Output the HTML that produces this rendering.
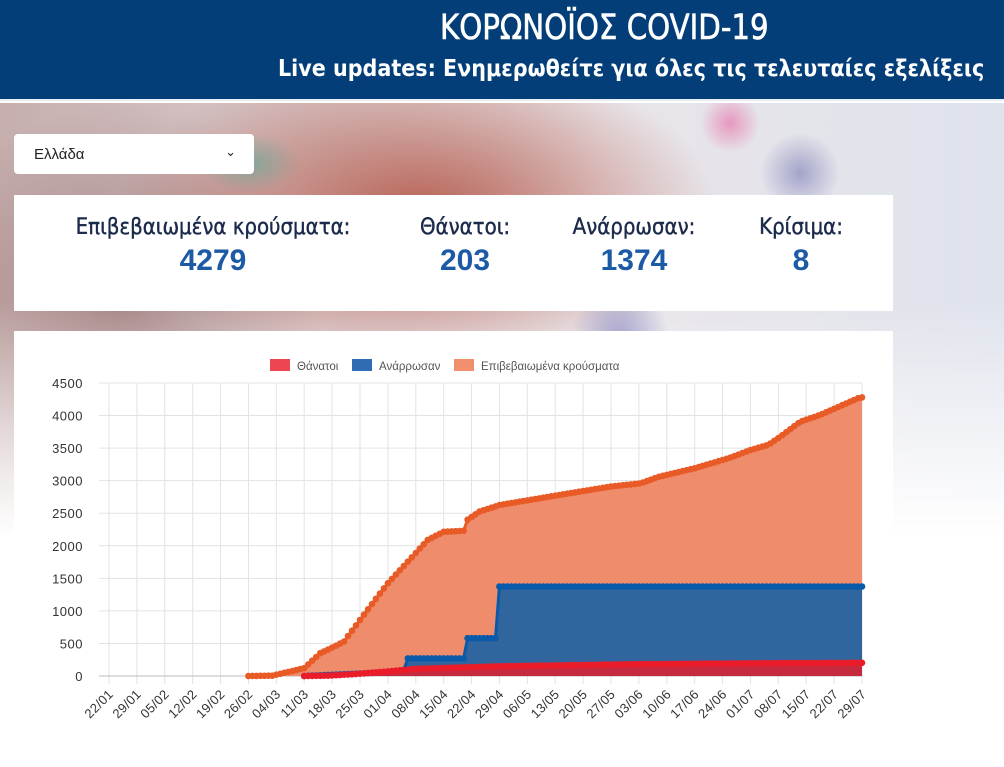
<!DOCTYPE html>
<html><head><meta charset="utf-8">
<style>
*{margin:0;padding:0;box-sizing:border-box}
body{width:1004px;height:767px;overflow:hidden;position:relative;font-family:"Liberation Sans","DejaVu Sans",sans-serif;background:#fff}
#hdr{position:absolute;left:0;top:0;width:1004px;height:101px;background:#033e78;border-bottom:2px solid #e8eef5}
#t1{position:absolute;left:440px;top:8px;color:#fff;font-size:35px;font-family:"DejaVu Sans Condensed","Liberation Sans",sans-serif;transform:scaleX(0.93);transform-origin:left;-webkit-text-stroke:0.6px #fff}
#t2{position:absolute;left:278px;top:56px;color:#fff;font-size:23px;font-weight:bold;font-family:"DejaVu Sans Condensed","Liberation Sans",sans-serif;white-space:nowrap}
#bg{position:absolute;left:0;top:103px;width:1004px;height:460px;
background:
radial-gradient(ellipse 60px 40px at 480px 130px,rgba(90,170,150,.7),transparent),
radial-gradient(ellipse 50px 60px at 620px 240px,rgba(110,110,180,.7),transparent),
radial-gradient(ellipse 40px 40px at 800px 70px,rgba(120,120,180,.6),transparent),
radial-gradient(ellipse 50px 30px at 250px 60px,rgba(90,170,150,.6),transparent),
radial-gradient(ellipse 30px 30px at 730px 20px,rgba(230,100,160,.6),transparent),
radial-gradient(ellipse 300px 160px at 420px 110px,rgba(180,85,70,.9),transparent),
radial-gradient(ellipse 200px 200px at 120px 200px,rgba(150,110,110,.7),transparent),
linear-gradient(90deg,rgba(160,120,120,.6),rgba(200,190,200,.4) 60%,rgba(215,220,232,.8));}
#fade{position:absolute;left:0;top:300px;width:1004px;height:263px;background:linear-gradient(180deg,rgba(255,255,255,0),#fff 90%)}
#sel{position:absolute;left:14px;top:134px;width:240px;height:40px;background:#fff;border-radius:4px;font-size:15px;color:#222;padding:12px 0 0 20px}
#sel span{position:absolute;right:18px;top:10px;font-size:13px}
#stats{position:absolute;left:14px;top:195px;width:879px;height:116px;background:#fff}
.st{position:absolute;top:20px;text-align:center;transform:translateX(-50%);white-space:nowrap}
.st .l{font-size:22px;color:#1b2a4a;font-family:"DejaVu Sans Condensed","Liberation Sans",sans-serif;-webkit-text-stroke:0.4px #1b2a4a}
.st .n{font-size:30px;color:#1d5aa6;font-weight:bold;margin-top:4px}
#card{position:absolute;left:14px;top:331px;width:879px;height:436px;background:#fff}
svg{position:absolute;left:0;top:0}
</style></head><body>
<div id="hdr"><div id="t1">ΚΟΡΩΝΟΪΟΣ COVID-19</div><div id="t2">Live updates: Ενημερωθείτε για όλες τις τελευταίες εξελίξεις</div></div>
<div id="bg"></div><div id="fade"></div>
<div id="sel">Ελλάδα<span>&#8964;</span></div>
<div id="stats">
<div class="st" style="left:199px"><div class="l">Επιβεβαιωμένα κρούσματα:</div><div class="n">4279</div></div>
<div class="st" style="left:451px"><div class="l">Θάνατοι:</div><div class="n">203</div></div>
<div class="st" style="left:620px"><div class="l">Ανάρρωσαν:</div><div class="n">1374</div></div>
<div class="st" style="left:787px"><div class="l">Κρίσιμα:</div><div class="n">8</div></div>
</div>
<div id="card"></div>
<svg id="ch" width="1004" height="767" xmlns="http://www.w3.org/2000/svg"></svg>
<script>
var s=document.getElementById('ch'),h='';
var X0=109,X1=862,Y0=676,Y1=383,N=189;
function X(d){return X0+(X1-X0)*d/N}
function Y(v){return Y0-(Y0-Y1)*v/4500}
function interp(p,d){for(var i=0;i<p.length-1;i++){if(d>=p[i][0]&&d<=p[i+1][0]){var a=p[i],b=p[i+1];return a[1]+(b[1]-a[1])*(d-a[0])/(b[0]-a[0]||1)}}return d<p[0][0]?null:p[p.length-1][1]}
var C=[[35,0],[41,5],[42,20],[49,120],[53,350],[56.5,450],[59,530],[63,860],[65.5,1065],[70,1425],[75,1755],[80,2090],[84,2215],[89,2230],[90,2400],[93,2525],[98,2625],[113,2780],[126,2910],[133.5,2960],[138,3060],[147,3190],[155.5,3345],[161,3470],[165.5,3550],[168.5,3675],[173.5,3905],[178.5,4010],[188.5,4280],[189,4279]];
var R=[[49,0],[60,30],[70,60],[74,90],[74.5,270],[89.5,270],[90,580],[97.5,580],[98,1374],[189,1374]];
var D=[[49,0],[55,5],[62,30],[70,70],[77,110],[98,150],[130,180],[160,195],[189,203]];
for(var i=0;i<=27;i++){var x=X(i*7);h+='<line x1="'+x+'" y1="'+Y1+'" x2="'+x+'" y2="'+(Y0+8)+'" stroke="#e3e3e3"/>';}
var dates=['22/01','29/01','05/02','12/02','19/02','26/02','04/03','11/03','18/03','25/03','01/04','08/04','15/04','22/04','29/04','06/05','13/05','20/05','27/05','03/06','10/06','17/06','24/06','01/07','08/07','15/07','22/07','29/07'];
for(var v=0;v<=4500;v+=500){var y=Y(v);h+='<line x1="99" y1="'+y+'" x2="'+X1+'" y2="'+y+'" stroke="'+(v?'#e3e3e3':'#bbb')+'"/><text x="83" y="'+(y+5)+'" text-anchor="end" font-size="13" letter-spacing="0.5" fill="#333">'+v+'</text>';}
dates.forEach(function(t,i){var x=X(i*7);h+='<text transform="translate('+(x+5)+','+(Y0+19)+') rotate(-45)" text-anchor="end" font-size="13" letter-spacing="0.3" fill="#333">'+t+'</text>';});
function area(p,col,fill){var pts=[],d0=p[0][0];for(var d=d0;d<=N;d++)pts.push([X(d),Y(interp(p,d))]);
 var path='M'+X(d0)+','+Y0+' '+pts.map(function(q){return 'L'+q[0].toFixed(1)+','+q[1].toFixed(1)}).join(' ')+' L'+X(N)+','+Y0+'Z';
 h+='<path d="'+path+'" fill="'+fill+'"/>';
 h+='<polyline points="'+pts.map(function(q){return q[0].toFixed(1)+','+q[1].toFixed(1)}).join(' ')+'" fill="none" stroke="'+col+'" stroke-width="3"/>';
 pts.forEach(function(q){h+='<circle cx="'+q[0].toFixed(1)+'" cy="'+q[1].toFixed(1)+'" r="3.3" fill="'+col+'"/>';});}
area(C,'#e85a26','#ef8c6c');
area(R,'#0a5aaa','#31659e');
area(D,'#ea1c2a','#c72a3e');
h+='<rect x="270" y="359" width="20" height="12" fill="#ee4552"/><text x="297" y="370" font-size="11.5" fill="#555">Θάνατοι</text>';
h+='<rect x="352" y="359" width="20" height="12" fill="#2f6cb3"/><text x="379" y="370" font-size="11.5" fill="#555">Ανάρρωσαν</text>';
h+='<rect x="454" y="359" width="20" height="12" fill="#f0906c"/><text x="481" y="370" font-size="11.5" fill="#555">Επιβεβαιωμένα κρούσματα</text>';
s.innerHTML=h;
</script>
</body></html>
